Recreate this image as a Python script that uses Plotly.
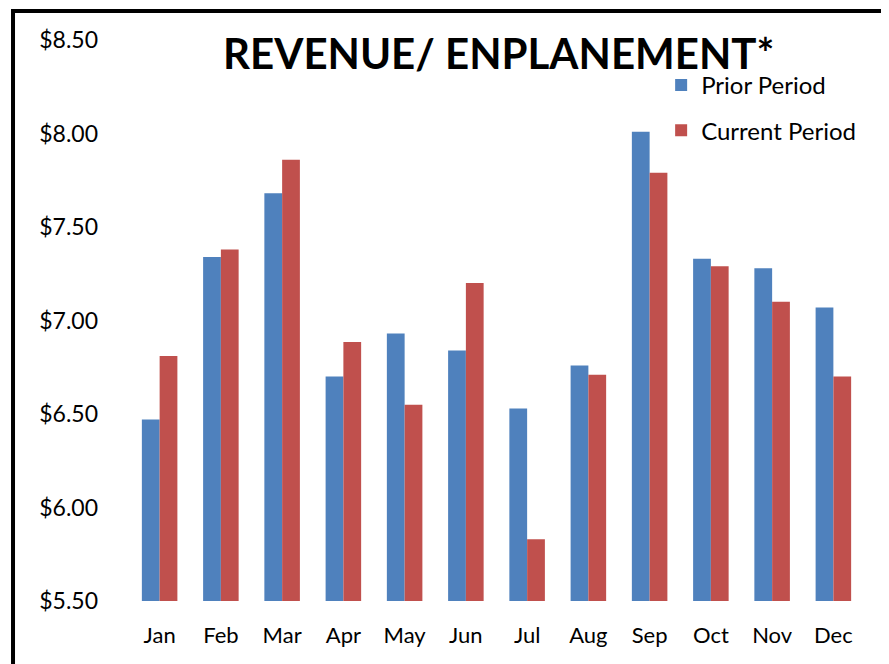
import plotly.graph_objects as go

months = ["Jan", "Feb", "Mar", "Apr", "May", "Jun", "Jul", "Aug", "Sep", "Oct", "Nov", "Dec"]
prior_period = [6.47, 7.34, 7.68, 6.70, 6.93, 6.84, 6.53, 6.76, 8.01, 7.33, 7.28, 7.07]
current_period = [6.81, 7.38, 7.86, 6.885, 6.55, 7.20, 5.83, 6.71, 7.79, 7.29, 7.10, 6.70]
tick_vals = [5.5, 6.0, 6.5, 7.0, 7.5, 8.0, 8.5]
tick_text = ["$5.50", "$6.00", "$6.50", "$7.00", "$7.50", "$8.00", "$8.50"]

FONT = "Lato, 'Noto Sans', sans-serif"

fig = go.Figure()
fig.add_trace(go.Bar(x=months, y=prior_period, name="Prior Period",
                     marker=dict(color="#4F81BD", line=dict(width=0)), legendgroup="a"))
fig.add_trace(go.Bar(x=months, y=current_period, name="Current Period",
                     marker=dict(color="#C0504D", line=dict(width=0)), legendgroup="b"))

fig.update_layout(
    width=889, height=664,
    margin=dict(l=121, r=33, t=32, b=71),
    paper_bgcolor="white", plot_bgcolor="white",
    font=dict(family=FONT, size=22, color="black"),
    barmode="group", bargap=0.42, bargroupgap=0,
    title=dict(text="<b>REVENUE/ ENPLANEMENT*</b>", font=dict(size=42, family=FONT, color="black"),
               x=0.503, xref="paper", xanchor="center", y=1 - 46 / 664, yref="container", yanchor="middle"),
    legend=dict(x=0.724, y=0.959, xanchor="left", yanchor="top", bgcolor="rgba(0,0,0,0)",
                font=dict(size=24), tracegroupgap=11, itemwidth=30),
    showlegend=True,
    xaxis=dict(showline=False, ticks="", showgrid=False, tickfont=dict(size=22), ticklabelstandoff=19),
    yaxis=dict(range=[5.5, 8.5], tickvals=tick_vals, ticktext=tick_text, showgrid=False,
               zeroline=False, showline=False, ticks="", tickfont=dict(size=23), ticklabelstandoff=30),
    shapes=[dict(type="rect", xref="paper", yref="paper", x0=-0.1578, x1=1.2, y0=-0.3, y1=1.0517,
                 line=dict(color="black", width=4), fillcolor="rgba(0,0,0,0)", layer="above")],
)

fig.write_html("out.html")
